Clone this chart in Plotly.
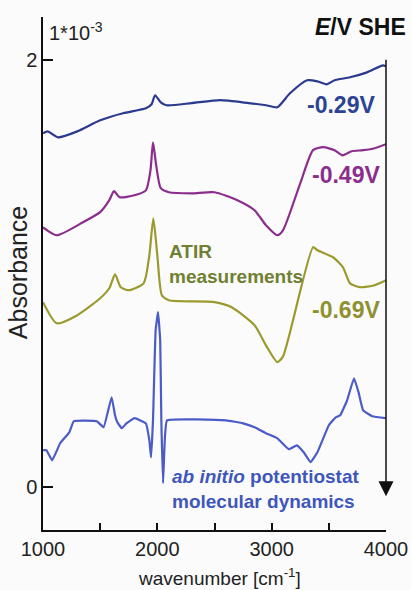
import plotly.graph_objects as go

# wavenumber [cm-1] and absorbance [1e-3]
wn_029 = [1000, 1040, 1130, 1300, 1500, 1700, 1900, 1950, 1980, 2030, 2080, 2300, 2550,
          2800, 2950, 3050, 3160, 3310, 3400, 3480, 3550, 3685, 3834, 3974, 4000]
ab_029 = [1.656, 1.665, 1.637, 1.665, 1.717, 1.750, 1.773, 1.792, 1.834, 1.801, 1.787,
          1.797, 1.811, 1.797, 1.787, 1.778, 1.843, 1.904, 1.899, 1.885, 1.904, 1.918,
          1.941, 1.974, 1.969]

wn_049 = [1000, 1120, 1350, 1500, 1580, 1621, 1670, 1800, 1900, 1940, 1962, 1990, 2030,
          2100, 2300, 2500, 2700, 2850, 2950, 3050, 3100, 3250, 3362, 3450, 3550, 3620,
          3700, 3800, 3900, 4000]
ab_049 = [1.216, 1.179, 1.240, 1.287, 1.343, 1.385, 1.357, 1.366, 1.389, 1.483, 1.614,
          1.506, 1.399, 1.380, 1.375, 1.380, 1.343, 1.296, 1.226, 1.179, 1.203, 1.422,
          1.577, 1.591, 1.577, 1.553, 1.572, 1.577, 1.586, 1.605]

wn_069 = [1000, 1120, 1300, 1500, 1580, 1630, 1680, 1750, 1880, 1930, 1965, 2000, 2040,
          2100, 2500, 2650, 2850, 2950, 3050, 3100, 3362, 3400, 3537, 3624, 3685, 3773,
          3900, 4000]
ab_069 = [0.866, 0.767, 0.805, 0.884, 0.931, 0.996, 0.936, 0.922, 0.954, 1.085, 1.258,
          1.085, 0.898, 0.875, 0.866, 0.842, 0.758, 0.664, 0.585, 0.613, 1.123, 1.109,
          1.076, 1.029, 0.954, 0.936, 0.945, 0.968]

wn_md = [1000, 1030, 1080, 1150, 1230, 1270, 1470, 1530, 1600, 1630, 1650, 1690, 1730,
         1800, 1900, 1930, 1945, 1962, 1985, 2006, 2025, 2035, 2050, 2065, 2085, 2600,
         2750, 2850, 2950, 3050, 3150, 3220, 3280, 3340, 3400, 3500, 3560, 3600, 3660,
         3720, 3760, 3800, 3880, 4000]
ab_md = [0.173, 0.173, 0.126, 0.206, 0.257, 0.309, 0.309, 0.281, 0.421, 0.337, 0.304,
         0.276, 0.299, 0.323, 0.299, 0.220, 0.140, 0.313, 0.734, 0.819, 0.688, 0.313,
         0.019, 0.220, 0.313, 0.313, 0.299, 0.281, 0.253, 0.229, 0.178, 0.196, 0.164,
         0.117, 0.164, 0.290, 0.327, 0.337, 0.407, 0.510, 0.444, 0.360, 0.332, 0.323]

x_tickvals = [1000, 2000, 3000, 4000]
x_ticktext = ["1000", "2000", "3000", "4000"]
x_minor_tickvals = [1500, 2500, 3500]
y_tickvals = [0, 2]
y_ticktext = ["0", "2"]

FONT = "Liberation Sans, Arial, sans-serif"
C_NAVY = "#2b3a8e"
C_PURPLE = "#8c2d8e"
C_OLIVE = "#9a9a2e"
C_MD = "#4b5cc6"

fig = go.Figure()
for wn, ab, col, sm in [(wn_029, ab_029, C_NAVY, 0.6), (wn_049, ab_049, C_PURPLE, 0.6),
                        (wn_069, ab_069, C_OLIVE, 0.6), (wn_md, ab_md, C_MD, 0.3)]:
    fig.add_trace(go.Scatter(x=wn, y=ab, mode="lines",
                             line=dict(color=col, width=2.2, shape="spline", smoothing=sm),
                             showlegend=False, hoverinfo="skip"))

ann = []
ann.append(dict(x=3606, y=1.787, xref="x", yref="y", text="<b>-0.29V</b>", showarrow=False,
                font=dict(family=FONT, size=23, color="#2d4393")))
ann.append(dict(x=3650, y=1.46, xref="x", yref="y", text="<b>-0.49V</b>", showarrow=False,
                font=dict(family=FONT, size=23, color=C_PURPLE)))
ann.append(dict(x=3650, y=0.828, xref="x", yref="y", text="<b>-0.69V</b>", showarrow=False,
                font=dict(family=FONT, size=23, color="#8f9030")))
ann.append(dict(x=2085, y=1.045, xref="x", yref="y", text="<b>ATIR<br>measurements</b>",
                showarrow=False, xanchor="left", align="left",
                font=dict(family=FONT, size=19, color="#6f8032")))
ann.append(dict(x=2111, y=-0.007, xref="x", yref="y",
                text="<b><i>ab initio</i> potentiostat<br>molecular dynamics</b>",
                showarrow=False, xanchor="left", align="left",
                font=dict(family=FONT, size=19, color="#3f56bb")))
ann.append(dict(x=1035, y=2.133, xref="x", yref="y", text="1*10<sup>-3</sup>",
                showarrow=False, xanchor="left",
                font=dict(family=FONT, size=20, color="#222")))
ann.append(dict(x=3775, y=2.152, xref="x", yref="y", text="<b><i>E</i>/V SHE</b>",
                showarrow=False,
                font=dict(family=FONT, size=23, color="#111")))
ann.append(dict(x=-0.073, y=1.006, xref="paper", yref="y", text="Absorbance",
                showarrow=False, textangle=-90, xanchor="center", yanchor="middle",
                font=dict(family=FONT, size=25, color="#222")))
ann.append(dict(x=2548, y=-0.0916, xref="x", yref="paper", text="wavenumber [cm<sup>-1</sup>]",
                showarrow=False, xanchor="center", yanchor="middle", borderpad=0,
                font=dict(family=FONT, size=19, color="#222")))
# E/V arrow
ann.append(dict(x=4000, y=-0.042, xref="x", yref="y", ax=4000, ay=2.007, axref="x", ayref="y",
                text="", showarrow=True, arrowhead=2, arrowsize=2, arrowwidth=1.5,
                arrowcolor="#111"))

fig.update_layout(
    width=411, height=590,
    margin=dict(l=43, r=25, t=17, b=60, autoexpand=False),
    paper_bgcolor="#fbfbfb", plot_bgcolor="#fbfbfb",
    annotations=ann,
    xaxis=dict(range=[1000, 4000], showline=True, linecolor="#111", linewidth=1.5,
               ticks="inside", ticklen=7, tickwidth=1.5, tickcolor="#111",
               tickvals=x_tickvals, ticktext=x_ticktext,
               minor=dict(tickvals=x_minor_tickvals, ticks="inside", ticklen=7,
                          tickwidth=1.5, tickcolor="#111", showgrid=False),
               tickfont=dict(family=FONT, size=20, color="#222"),
               showgrid=False, zeroline=False, automargin=False),
    yaxis=dict(range=[-0.2, 2.2], showline=True, linecolor="#111", linewidth=1.5,
               ticks="inside", ticklen=10, tickwidth=1.5, tickcolor="#111",
               tickvals=y_tickvals, ticktext=y_ticktext,
               tickfont=dict(family=FONT, size=20, color="#222"),
               showgrid=False, zeroline=False, automargin=False),
)

fig.write_html("out.html")
